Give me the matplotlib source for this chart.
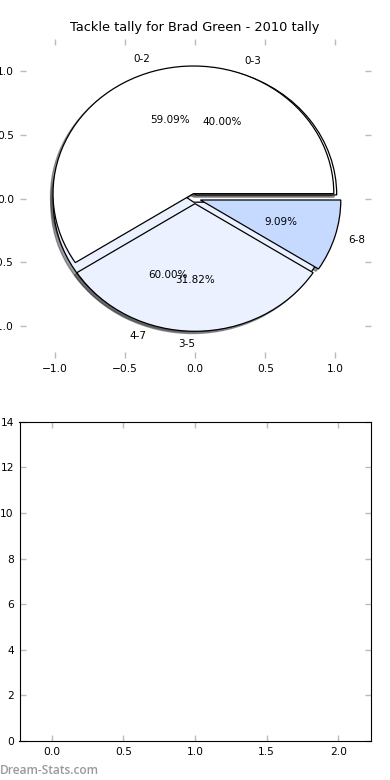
import matplotlib
matplotlib.use("Agg")
import matplotlib.pyplot as plt

title = "Tackle tally for Brad Green - 2010 tally"

# first pie
labels_a = ["0-2", "3-5", "6-8"]
values_a = [13, 7, 2]
colors_a = ["#FFFFFF", "#EBF1FE", "#C6D9FE"]
explode_a = [0.04, 0.04, 0.04]

# second pie
labels_b = ["0-3", "4-7"]
values_b = [4, 6]
colors_b = ["#FFFFFF", "#EBF1FE"]
explode_b = [0.03, 0.03]

# bottom (empty) chart
bar_cats = [0, 1, 2]
bar_vals = [0, 0, 0]

plt.rcParams["font.family"] = ["DejaVu Sans"]
plt.rcParams["font.size"] = 7.5

fig, (ax1, ax2) = plt.subplots(2, 1, figsize=(3.9, 7.8), dpi=100)
fig.subplots_adjust(left=0.05, right=0.95, bottom=0.05, top=0.95, hspace=0.2)

wp = dict(edgecolor="black", linewidth=0.9)
shadow = dict(ox=-0.013, oy=-0.013, shade=0.75)
ax1.pie(values_b, labels=labels_b, colors=colors_b, explode=explode_b,
        autopct="%1.2f%%", shadow=shadow, wedgeprops=wp,
        textprops=dict(fontsize=7.5))
_, texts_a, _ = ax1.pie(values_a, labels=labels_a, colors=colors_a, explode=explode_a,
                        autopct="%1.2f%%", shadow=shadow, wedgeprops=wp,
                        textprops=dict(fontsize=7.5))
# label at the very bottom sits right-aligned, as in the original
texts_a[1].set_ha("right")

ax1.set_aspect("auto")
ax1.set_xlim(-1.25, 1.25)
ax1.set_ylim(-1.25, 1.25)
ax1.set_frame_on(False)
ticks = [-1.0, -0.5, 0.0, 0.5, 1.0]
ax1.set_xticks(ticks)
ax1.set_yticks(ticks)
ax1.set_xticklabels([f"{t:.1f}".replace("-", "\u2212") for t in ticks])
ax1.set_yticklabels([f"{t:.1f}".replace("-", "\u2212") for t in ticks])
ax1.set_title(title, fontsize=9.3)

ax2.bar(bar_cats, bar_vals, width=0.45, color="#C6D9FE", edgecolor="black", linewidth=0)
ax2.set_xlim(-0.225, 2.225)
ax2.set_ylim(0, 14)
ax2.set_xticks([0.0, 0.5, 1.0, 1.5, 2.0])
ax2.set_yticks([0, 2, 4, 6, 8, 10, 12, 14])

for ax in (ax1, ax2):
    ax.tick_params(direction="in", length=4, width=1, color="#BBBBBB",
                   top=True, right=True, labelsize=7.7, pad=4)

fig.text(0.0, 0.004, "Dream-Stats.com", color="#999999", fontsize=8.6,
         fontweight="semibold", family="Open Sans", ha="left", va="bottom")

fig.savefig("out.png", dpi=100)
